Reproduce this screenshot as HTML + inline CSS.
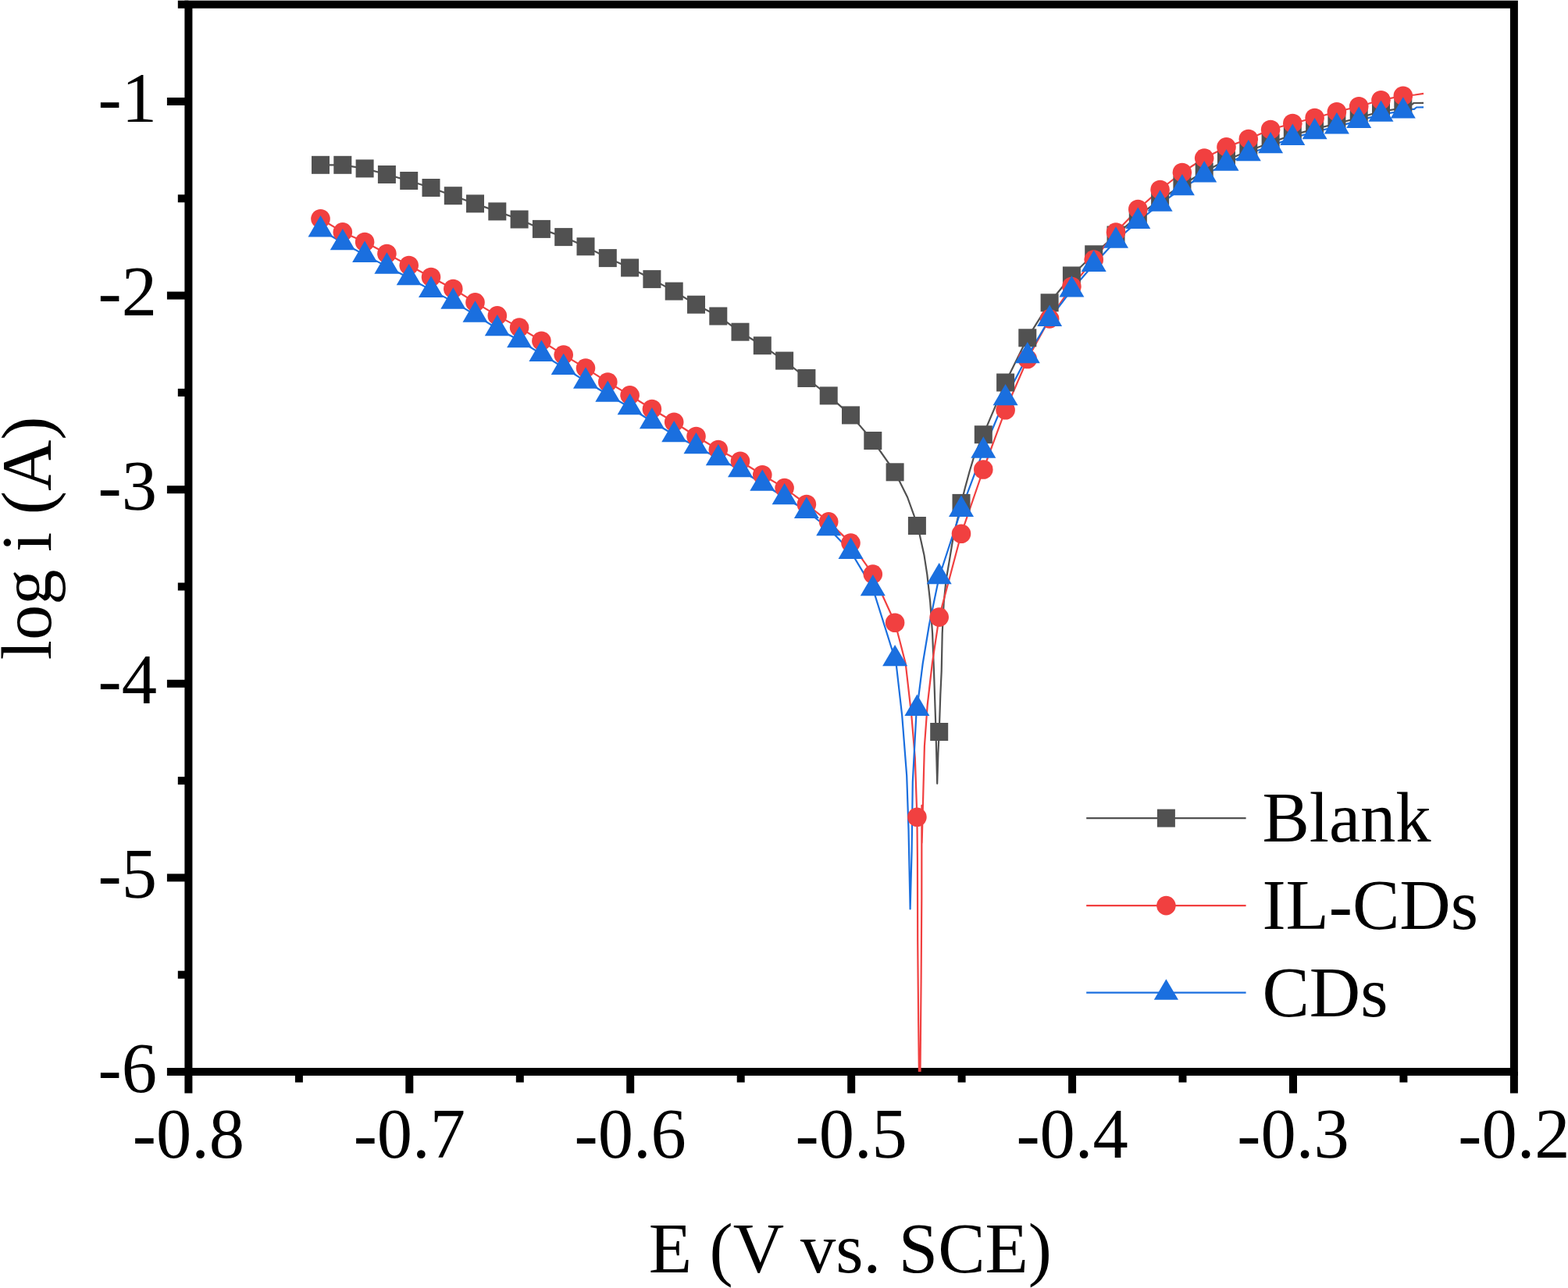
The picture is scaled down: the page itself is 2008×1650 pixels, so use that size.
<!DOCTYPE html>
<html lang="en">
<head>
<meta charset="utf-8">
<title>Polarization curves: log i (A) vs E (V vs. SCE)</title>
<style>
html,body{margin:0;padding:0;background:#fff;}
body{width:2008px;height:1650px;overflow:hidden;}
svg{display:block;}
text{font-family:"Liberation Serif","Times New Roman",Times,serif;font-size:92px;fill:#000;}
.ax{stroke:#000;stroke-width:10;fill:none;stroke-linecap:butt;}
.ln{fill:none;stroke-width:2.2;stroke-linejoin:round;stroke-linecap:butt;}
</style>
</head>
<body>
<svg width="2008" height="1650" viewBox="0 0 2008 1650">
<rect x="0" y="0" width="2008" height="1650" fill="#fff"/>

<g id="axes">
<rect class="ax" x="241.4" y="5.7" width="1697.5" height="1367.3"/>
<line class="ax" x1="241.4" y1="1373.0" x2="241.4" y2="1400.5"/>
<line class="ax" x1="382.9" y1="1373.0" x2="382.9" y2="1386.6"/>
<line class="ax" x1="524.3" y1="1373.0" x2="524.3" y2="1400.5"/>
<line class="ax" x1="665.8" y1="1373.0" x2="665.8" y2="1386.6"/>
<line class="ax" x1="807.2" y1="1373.0" x2="807.2" y2="1400.5"/>
<line class="ax" x1="948.7" y1="1373.0" x2="948.7" y2="1386.6"/>
<line class="ax" x1="1090.2" y1="1373.0" x2="1090.2" y2="1400.5"/>
<line class="ax" x1="1231.6" y1="1373.0" x2="1231.6" y2="1386.6"/>
<line class="ax" x1="1373.1" y1="1373.0" x2="1373.1" y2="1400.5"/>
<line class="ax" x1="1514.5" y1="1373.0" x2="1514.5" y2="1386.6"/>
<line class="ax" x1="1656.0" y1="1373.0" x2="1656.0" y2="1400.5"/>
<line class="ax" x1="1797.4" y1="1373.0" x2="1797.4" y2="1386.6"/>
<line class="ax" x1="1938.9" y1="1373.0" x2="1938.9" y2="1400.5"/>
<line class="ax" x1="241.4" y1="5.7" x2="227.8" y2="5.7"/>
<line class="ax" x1="241.4" y1="130.0" x2="213.9" y2="130.0"/>
<line class="ax" x1="241.4" y1="254.3" x2="227.8" y2="254.3"/>
<line class="ax" x1="241.4" y1="378.6" x2="213.9" y2="378.6"/>
<line class="ax" x1="241.4" y1="502.9" x2="227.8" y2="502.9"/>
<line class="ax" x1="241.4" y1="627.2" x2="213.9" y2="627.2"/>
<line class="ax" x1="241.4" y1="751.5" x2="227.8" y2="751.5"/>
<line class="ax" x1="241.4" y1="875.8" x2="213.9" y2="875.8"/>
<line class="ax" x1="241.4" y1="1000.1" x2="227.8" y2="1000.1"/>
<line class="ax" x1="241.4" y1="1124.4" x2="213.9" y2="1124.4"/>
<line class="ax" x1="241.4" y1="1248.7" x2="227.8" y2="1248.7"/>
<line class="ax" x1="241.4" y1="1373.0" x2="213.9" y2="1373.0"/>
</g>
<defs><clipPath id="plotclip"><rect x="241.4" y="5.7" width="1697.5" height="1367.3"/></clipPath></defs>
<g id="lines" clip-path="url(#plotclip)">
<polyline class="ln" stroke="#515151" points="410.5,211.3 438.8,211.3 467.1,215.9 495.4,223.5 523.7,231.5 552.0,240.5 580.3,250.7 608.5,260.9 636.8,270.9 665.1,281.0 693.4,293.4 721.7,303.6 750.0,315.8 778.3,330.6 806.6,343.0 834.9,357.6 863.2,373.1 891.5,390.2 919.8,405.0 948.0,425.2 976.3,442.7 1004.6,462.1 1032.9,484.5 1061.2,506.9 1089.5,531.9 1117.8,564.5 1146.1,604.8 1162.1,637.0 1170.8,661.2 1174.4,673.5 1177.6,684.5 1183.4,710.7 1187.3,735.9 1191.2,770.8 1194.1,811.5 1196.0,860.0 1198.3,930.0 1200.2,1003.8 1201.4,965.0 1202.7,937.5 1204.3,890.0 1205.7,860.0 1206.7,811.5 1208.6,772.7 1211.5,743.6 1216.4,714.6 1220.2,691.3 1231.0,644.4 1235.8,625.3 1241.6,604.0 1247.4,584.6 1259.3,556.7 1287.6,490.0 1315.8,432.8 1344.1,387.8 1372.4,353.0 1400.7,325.8 1429.0,301.0 1457.3,276.6 1485.6,255.9 1513.9,237.0 1542.2,219.9 1570.5,205.2 1598.8,193.2 1627.1,182.8 1655.3,172.9 1683.6,165.4 1711.9,158.3 1740.2,150.9 1768.5,142.8 1796.8,138.3 1807.0,134.6 1810.5,132.0 1823.0,131.8"/>
<polyline class="ln" stroke="#F14040" points="410.5,280.2 438.8,297.4 467.1,310.0 495.4,325.0 523.7,340.0 552.0,355.0 580.3,370.0 608.5,387.4 636.8,404.4 665.1,419.6 693.4,436.8 721.7,454.6 750.0,471.6 778.3,489.5 806.6,506.4 834.9,524.0 863.2,540.8 891.5,559.0 919.8,576.0 948.0,590.8 976.3,608.3 1004.6,625.1 1032.9,646.0 1061.2,668.4 1089.5,695.6 1117.8,735.6 1146.1,797.8 1152.0,820.0 1159.7,850.0 1167.3,916.7 1171.8,971.0 1174.4,1046.8 1174.9,1100.0 1175.2,1206.0 1176.2,1313.0 1176.9,1373.0 1177.7,1420.0 1178.5,1373.0 1179.6,1254.0 1180.3,1150.0 1180.4,1031.8 1180.6,1080.0 1183.9,956.0 1187.7,903.0 1193.8,850.0 1202.7,790.6 1231.0,683.8 1259.3,601.5 1287.6,525.2 1315.8,460.0 1344.1,408.4 1372.4,367.0 1400.7,332.6 1429.0,297.6 1457.3,268.0 1485.6,243.0 1513.9,221.0 1542.2,202.6 1570.5,188.4 1598.8,178.0 1627.1,166.0 1655.3,158.0 1683.6,151.0 1711.9,143.3 1740.2,136.3 1768.5,128.2 1796.8,122.8 1812.0,121.5 1823.0,119.9"/>
<polyline class="ln" stroke="#1A6FDF" points="410.5,294.2 438.8,311.0 467.1,326.6 495.4,341.4 523.7,356.0 552.0,371.6 580.3,386.4 608.5,403.4 636.8,421.0 665.1,436.0 693.4,453.6 721.7,470.8 750.0,488.4 778.3,505.5 806.6,522.0 834.9,540.0 863.2,557.0 891.5,572.0 919.8,587.0 948.0,602.0 976.3,619.5 1004.6,637.0 1032.9,654.6 1061.2,677.0 1089.5,706.6 1117.8,754.0 1146.1,844.0 1147.6,850.0 1155.2,916.7 1161.2,994.0 1163.5,1062.0 1165.6,1164.4 1167.6,1090.0 1168.8,1001.5 1173.3,916.7 1174.4,907.7 1181.7,850.0 1190.0,800.0 1202.7,739.0 1231.0,652.7 1259.3,577.4 1287.6,510.0 1315.8,456.0 1344.1,408.6 1372.4,371.3 1400.7,338.7 1429.0,308.4 1457.3,283.6 1485.6,261.4 1513.9,241.0 1542.2,224.2 1570.5,209.4 1598.8,197.0 1627.1,187.0 1655.3,176.6 1683.6,169.0 1711.9,162.1 1740.2,154.6 1768.5,146.5 1796.8,142.2 1806.0,139.9 1811.0,139.8 1814.0,137.5 1823.0,137.4"/>
</g>
<g id="blank" fill="#515151">
<rect x="399.0" y="199.8" width="23" height="23"/>
<rect x="427.3" y="199.8" width="23" height="23"/>
<rect x="455.6" y="204.4" width="23" height="23"/>
<rect x="483.9" y="212.0" width="23" height="23"/>
<rect x="512.2" y="220.0" width="23" height="23"/>
<rect x="540.5" y="229.0" width="23" height="23"/>
<rect x="568.8" y="239.2" width="23" height="23"/>
<rect x="597.0" y="249.4" width="23" height="23"/>
<rect x="625.3" y="259.4" width="23" height="23"/>
<rect x="653.6" y="269.5" width="23" height="23"/>
<rect x="681.9" y="281.9" width="23" height="23"/>
<rect x="710.2" y="292.1" width="23" height="23"/>
<rect x="738.5" y="304.3" width="23" height="23"/>
<rect x="766.8" y="319.1" width="23" height="23"/>
<rect x="795.1" y="331.5" width="23" height="23"/>
<rect x="823.4" y="346.1" width="23" height="23"/>
<rect x="851.7" y="361.6" width="23" height="23"/>
<rect x="880.0" y="378.7" width="23" height="23"/>
<rect x="908.3" y="393.5" width="23" height="23"/>
<rect x="936.5" y="413.7" width="23" height="23"/>
<rect x="964.8" y="431.2" width="23" height="23"/>
<rect x="993.1" y="450.6" width="23" height="23"/>
<rect x="1021.4" y="473.0" width="23" height="23"/>
<rect x="1049.7" y="495.4" width="23" height="23"/>
<rect x="1078.0" y="520.4" width="23" height="23"/>
<rect x="1106.3" y="553.0" width="23" height="23"/>
<rect x="1134.6" y="593.3" width="23" height="23"/>
<rect x="1162.9" y="662.0" width="23" height="23"/>
<rect x="1191.2" y="926.0" width="23" height="23"/>
<rect x="1219.5" y="632.9" width="23" height="23"/>
<rect x="1247.8" y="545.2" width="23" height="23"/>
<rect x="1276.1" y="478.5" width="23" height="23"/>
<rect x="1304.3" y="421.3" width="23" height="23"/>
<rect x="1332.6" y="376.3" width="23" height="23"/>
<rect x="1360.9" y="341.5" width="23" height="23"/>
<rect x="1389.2" y="314.3" width="23" height="23"/>
<rect x="1417.5" y="289.5" width="23" height="23"/>
<rect x="1445.8" y="265.1" width="23" height="23"/>
<rect x="1474.1" y="244.4" width="23" height="23"/>
<rect x="1502.4" y="225.5" width="23" height="23"/>
<rect x="1530.7" y="208.4" width="23" height="23"/>
<rect x="1559.0" y="193.7" width="23" height="23"/>
<rect x="1587.3" y="181.7" width="23" height="23"/>
<rect x="1615.6" y="171.3" width="23" height="23"/>
<rect x="1643.8" y="161.4" width="23" height="23"/>
<rect x="1672.1" y="153.9" width="23" height="23"/>
<rect x="1700.4" y="146.8" width="23" height="23"/>
<rect x="1728.7" y="139.4" width="23" height="23"/>
<rect x="1757.0" y="131.3" width="23" height="23"/>
<rect x="1785.3" y="126.8" width="23" height="23"/>
</g>
<g id="ilcds" fill="#F14040">
<circle cx="410.5" cy="280.2" r="12.3"/>
<circle cx="438.8" cy="297.4" r="12.3"/>
<circle cx="467.1" cy="310.0" r="12.3"/>
<circle cx="495.4" cy="325.0" r="12.3"/>
<circle cx="523.7" cy="340.0" r="12.3"/>
<circle cx="552.0" cy="355.0" r="12.3"/>
<circle cx="580.3" cy="370.0" r="12.3"/>
<circle cx="608.5" cy="387.4" r="12.3"/>
<circle cx="636.8" cy="404.4" r="12.3"/>
<circle cx="665.1" cy="419.6" r="12.3"/>
<circle cx="693.4" cy="436.8" r="12.3"/>
<circle cx="721.7" cy="454.6" r="12.3"/>
<circle cx="750.0" cy="471.6" r="12.3"/>
<circle cx="778.3" cy="489.5" r="12.3"/>
<circle cx="806.6" cy="506.4" r="12.3"/>
<circle cx="834.9" cy="524.0" r="12.3"/>
<circle cx="863.2" cy="540.8" r="12.3"/>
<circle cx="891.5" cy="559.0" r="12.3"/>
<circle cx="919.8" cy="576.0" r="12.3"/>
<circle cx="948.0" cy="590.8" r="12.3"/>
<circle cx="976.3" cy="608.3" r="12.3"/>
<circle cx="1004.6" cy="625.1" r="12.3"/>
<circle cx="1032.9" cy="646.0" r="12.3"/>
<circle cx="1061.2" cy="668.4" r="12.3"/>
<circle cx="1089.5" cy="695.6" r="12.3"/>
<circle cx="1117.8" cy="735.6" r="12.3"/>
<circle cx="1146.1" cy="797.8" r="12.3"/>
<circle cx="1174.4" cy="1046.8" r="12.3"/>
<circle cx="1202.7" cy="790.6" r="12.3"/>
<circle cx="1231.0" cy="683.8" r="12.3"/>
<circle cx="1259.3" cy="601.5" r="12.3"/>
<circle cx="1287.6" cy="525.2" r="12.3"/>
<circle cx="1315.8" cy="460.0" r="12.3"/>
<circle cx="1344.1" cy="408.4" r="12.3"/>
<circle cx="1372.4" cy="367.0" r="12.3"/>
<circle cx="1400.7" cy="332.6" r="12.3"/>
<circle cx="1429.0" cy="297.6" r="12.3"/>
<circle cx="1457.3" cy="268.0" r="12.3"/>
<circle cx="1485.6" cy="243.0" r="12.3"/>
<circle cx="1513.9" cy="221.0" r="12.3"/>
<circle cx="1542.2" cy="202.6" r="12.3"/>
<circle cx="1570.5" cy="188.4" r="12.3"/>
<circle cx="1598.8" cy="178.0" r="12.3"/>
<circle cx="1627.1" cy="166.0" r="12.3"/>
<circle cx="1655.3" cy="158.0" r="12.3"/>
<circle cx="1683.6" cy="151.0" r="12.3"/>
<circle cx="1711.9" cy="143.3" r="12.3"/>
<circle cx="1740.2" cy="136.3" r="12.3"/>
<circle cx="1768.5" cy="128.2" r="12.3"/>
<circle cx="1796.8" cy="122.8" r="12.3"/>
</g>
<g id="cds" fill="#1A6FDF">
<polygon points="410.5,276.1 426.5,303.5 394.5,303.5"/>
<polygon points="438.8,292.9 454.8,320.3 422.8,320.3"/>
<polygon points="467.1,308.5 483.1,335.9 451.1,335.9"/>
<polygon points="495.4,323.3 511.4,350.7 479.4,350.7"/>
<polygon points="523.7,337.9 539.7,365.3 507.7,365.3"/>
<polygon points="552.0,353.5 568.0,380.9 536.0,380.9"/>
<polygon points="580.3,368.3 596.3,395.7 564.3,395.7"/>
<polygon points="608.5,385.3 624.5,412.7 592.5,412.7"/>
<polygon points="636.8,402.9 652.8,430.3 620.8,430.3"/>
<polygon points="665.1,417.9 681.1,445.3 649.1,445.3"/>
<polygon points="693.4,435.5 709.4,462.9 677.4,462.9"/>
<polygon points="721.7,452.7 737.7,480.1 705.7,480.1"/>
<polygon points="750.0,470.3 766.0,497.7 734.0,497.7"/>
<polygon points="778.3,487.4 794.3,514.8 762.3,514.8"/>
<polygon points="806.6,503.9 822.6,531.3 790.6,531.3"/>
<polygon points="834.9,521.9 850.9,549.3 818.9,549.3"/>
<polygon points="863.2,538.9 879.2,566.3 847.2,566.3"/>
<polygon points="891.5,553.9 907.5,581.3 875.5,581.3"/>
<polygon points="919.8,568.9 935.8,596.3 903.8,596.3"/>
<polygon points="948.0,583.9 964.0,611.3 932.0,611.3"/>
<polygon points="976.3,601.4 992.3,628.8 960.3,628.8"/>
<polygon points="1004.6,618.9 1020.6,646.3 988.6,646.3"/>
<polygon points="1032.9,636.5 1048.9,663.9 1016.9,663.9"/>
<polygon points="1061.2,658.9 1077.2,686.3 1045.2,686.3"/>
<polygon points="1089.5,688.5 1105.5,715.9 1073.5,715.9"/>
<polygon points="1117.8,735.9 1133.8,763.3 1101.8,763.3"/>
<polygon points="1146.1,825.9 1162.1,853.3 1130.1,853.3"/>
<polygon points="1174.4,889.6 1190.4,917.0 1158.4,917.0"/>
<polygon points="1202.7,720.9 1218.7,748.3 1186.7,748.3"/>
<polygon points="1231.0,634.6 1247.0,662.0 1215.0,662.0"/>
<polygon points="1259.3,559.3 1275.3,586.7 1243.3,586.7"/>
<polygon points="1287.6,491.9 1303.6,519.3 1271.6,519.3"/>
<polygon points="1315.8,437.9 1331.8,465.3 1299.8,465.3"/>
<polygon points="1344.1,390.5 1360.1,417.9 1328.1,417.9"/>
<polygon points="1372.4,353.2 1388.4,380.6 1356.4,380.6"/>
<polygon points="1400.7,320.6 1416.7,348.0 1384.7,348.0"/>
<polygon points="1429.0,290.3 1445.0,317.7 1413.0,317.7"/>
<polygon points="1457.3,265.5 1473.3,292.9 1441.3,292.9"/>
<polygon points="1485.6,243.3 1501.6,270.7 1469.6,270.7"/>
<polygon points="1513.9,222.9 1529.9,250.3 1497.9,250.3"/>
<polygon points="1542.2,206.1 1558.2,233.5 1526.2,233.5"/>
<polygon points="1570.5,191.3 1586.5,218.7 1554.5,218.7"/>
<polygon points="1598.8,178.9 1614.8,206.3 1582.8,206.3"/>
<polygon points="1627.1,168.9 1643.1,196.3 1611.1,196.3"/>
<polygon points="1655.3,158.5 1671.3,185.9 1639.3,185.9"/>
<polygon points="1683.6,150.9 1699.6,178.3 1667.6,178.3"/>
<polygon points="1711.9,144.0 1727.9,171.4 1695.9,171.4"/>
<polygon points="1740.2,136.5 1756.2,163.9 1724.2,163.9"/>
<polygon points="1768.5,128.4 1784.5,155.8 1752.5,155.8"/>
<polygon points="1796.8,124.2 1812.8,151.6 1780.8,151.6"/>
</g>
<g id="xticklabels" text-anchor="middle">
<text transform="translate(241.4,1482.6) scale(0.984,1)">-0.8</text>
<text transform="translate(524.3,1482.6) scale(0.984,1)">-0.7</text>
<text transform="translate(807.2,1482.6) scale(0.984,1)">-0.6</text>
<text transform="translate(1090.2,1482.6) scale(0.984,1)">-0.5</text>
<text transform="translate(1373.1,1482.6) scale(0.984,1)">-0.4</text>
<text transform="translate(1656.0,1482.6) scale(0.984,1)">-0.3</text>
<text transform="translate(1938.9,1482.6) scale(0.984,1)">-0.2</text>
</g>
<g id="yticklabels" text-anchor="end">
<text transform="translate(201.0,155.5) scale(0.984,1)">-1</text>
<text transform="translate(201.0,404.1) scale(0.984,1)">-2</text>
<text transform="translate(201.0,652.7) scale(0.984,1)">-3</text>
<text transform="translate(201.0,901.3) scale(0.984,1)">-4</text>
<text transform="translate(201.0,1149.9) scale(0.984,1)">-5</text>
<text transform="translate(201.0,1398.5) scale(0.984,1)">-6</text>
</g>
<text id="xtitle" transform="translate(1088.8,1630) scale(0.984,1)" text-anchor="middle">E (V vs. SCE)</text>
<text id="ytitle" transform="translate(64.9,689.4) rotate(-90) scale(0.984,1)" text-anchor="middle">log i (A)</text>
<g id="legend">
<line x1="1391.2" y1="1048.1" x2="1595.6" y2="1048.1" stroke="#515151" stroke-width="2.2"/>
<rect x="1481.9" y="1036.6" width="23" height="23" fill="#515151"/>
<text transform="translate(1616.4,1078.3) scale(0.984,1)">Blank</text>
<line x1="1391.2" y1="1160.1" x2="1595.6" y2="1160.1" stroke="#F14040" stroke-width="2.2"/>
<circle cx="1493.4" cy="1160.1" r="12.3" fill="#F14040"/>
<text transform="translate(1616.4,1190.0) scale(0.984,1)">IL-CDs</text>
<line x1="1391.2" y1="1271.6" x2="1595.6" y2="1271.6" stroke="#1A6FDF" stroke-width="2.2"/>
<polygon fill="#1A6FDF" points="1493.4,1254.2 1509.0,1280.8 1477.8,1280.8"/>
<text transform="translate(1616.4,1301.8) scale(0.984,1)">CDs</text>
</g>
</svg>
</body>
</html>
